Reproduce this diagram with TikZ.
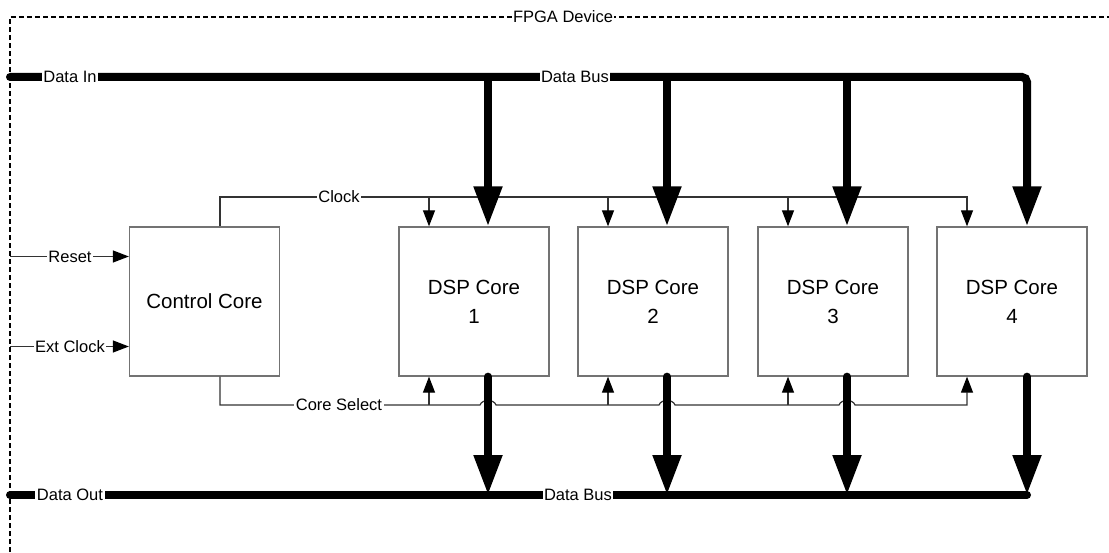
\documentclass[tikz,border=0pt]{standalone}
\usepackage{fontspec}
\setmainfont{Liberation Sans}
\usetikzlibrary{arrows.meta,positioning}

\tikzset{
  core/.style={draw=black!55, line width=1.3pt, fill=white, minimum width=150pt,
    minimum height=149pt, align=center, font=\fontsize{20.5}{29}\selectfont},
  tag/.style={fill=white, inner sep=1.5pt, font=\fontsize{16.5}{19}\selectfont},
  bus/.style={line width=8pt},
  busarrow/.style={line width=8pt, -{Triangle[length=40pt,width=27pt]}},
  sig/.style={draw=black!80, line width=1.2pt},
  sigarrow/.style={sig, -{Triangle[length=16pt,width=12pt,color=black]}},
}

\begin{document}
\begin{tikzpicture}[x=1pt, y=-1pt]

    \useasboundingbox (0,0) rectangle (1109,553);
    \clip (0,0) rectangle (1109,553);

    % Device outline
    \draw[line width=2.4pt, dash pattern=on 5pt off 3pt] (10,560) -- (10,17) -- (1120,17);
    \node[tag] (fpga) at (563,17) {FPGA Device};

    % Cores
    \node[core] (ctrl) at (204.5,301.5) {Control Core};
    \node[core] (dsp1) at (474,301.5) {DSP Core\\1};
    \node[core] (dsp2) at (653,301.5) {DSP Core\\2};
    \node[core] (dsp3) at (833,301.5) {DSP Core\\3};
    \node[core] (dsp4) at (1012,301.5) {DSP Core\\4};

    % Bus taps and signal taps
    \coordinate (inL) at (10,77);    % data in
    \coordinate (d1) at (488,77);
    \coordinate (d2) at (667,77);
    \coordinate (d3) at (847,77);
    \coordinate (d4) at (1027,77);
    \coordinate (outL) at (10,495);  % data out
    \coordinate (q1) at (488,495);
    \coordinate (q2) at (667,495);
    \coordinate (q3) at (847,495);
    \coordinate (q4) at (1027,495);
    \coordinate (clk) at (220,197);  % clock from control core
    \coordinate (c1) at (429,197);
    \coordinate (c2) at (608,197);
    \coordinate (c3) at (788,197);
    \coordinate (c4) at (967,197);
    \coordinate (sel) at (220,405);  % core select from control core
    \coordinate (s1) at (429,405);
    \coordinate (s2) at (608,405);
    \coordinate (s3) at (788,405);
    \coordinate (s4) at (967,405);
    \coordinate (rst) at (10,256.5);
    \coordinate (xclk) at (10,346.5);

    % External inputs
    \draw[sigarrow] (rst) -- (ctrl.west |- rst);
    \draw[sigarrow] (xclk) -- (ctrl.west |- xclk);
    \node[tag] (rstlbl) at (70,256.5) {Reset};
    \node[tag] (xclklbl) at (70,346.5) {Ext Clock};

    % Clock distribution
    \draw[sigarrow] (ctrl.north -| clk) -- (clk) -- (c4) -- (c4 |- dsp4.north);
    \draw[sigarrow] (c1) -- (c1 |- dsp1.north);
    \draw[sigarrow] (c2) -- (c2 |- dsp2.north);
    \draw[sigarrow] (c3) -- (c3 |- dsp3.north);
    \node[tag] (clklbl) at (339,197) {Clock};

    % Core select, hopping over the output arrows
    \draw[sigarrow] (ctrl.south -| sel) -- (sel)
        -- (480,405) .. controls (482,399) and (494,399) .. (496,405)
        -- (659,405) .. controls (661,399) and (673,399) .. (675,405)
        -- (839,405) .. controls (841,399) and (853,399) .. (855,405)
        -- (s4) -- (s4 |- dsp4.south);
    \draw[sigarrow] (s1) -- (s1 |- dsp1.south);
    \draw[sigarrow] (s2) -- (s2 |- dsp2.south);
    \draw[sigarrow] (s3) -- (s3 |- dsp3.south);
    \node[tag] (sellbl) at (339,405) {Core Select};

    % Input data bus
    \draw[busarrow, line cap=round, rounded corners=5pt] (inL) -- (d4) -- (d4 |- dsp4.north);
    \draw[busarrow] (d1) -- (d1 |- dsp1.north);
    \draw[busarrow] (d2) -- (d2 |- dsp2.north);
    \draw[busarrow] (d3) -- (d3 |- dsp3.north);
    \node[tag] (inlbl) at (70,77) {Data In};
    \node[tag] (inbus) at (575,77) {Data Bus};

    % Output data bus
    \draw[bus, line cap=round] (outL) -- (q4);
    \draw[busarrow, line cap=round] (q1 |- dsp1.south) -- (q1);
    \draw[busarrow, line cap=round] (q2 |- dsp2.south) -- (q2);
    \draw[busarrow, line cap=round] (q3 |- dsp3.south) -- (q3);
    \draw[busarrow, line cap=round] (q4 |- dsp4.south) -- (q4);
    \node[tag] (outlbl) at (70,495) {Data Out};
    \node[tag] (outbus) at (578,495) {Data Bus};

\end{tikzpicture}
\end{document}
